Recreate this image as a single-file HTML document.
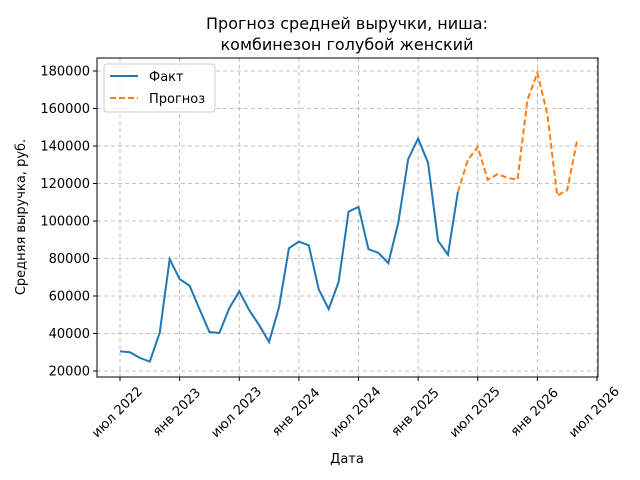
<!DOCTYPE html>
<html><head><meta charset="utf-8"><style>
body{margin:0;background:#fff;}
svg{display:block;font-family:"DejaVu Sans","Liberation Sans",sans-serif;}
</style></head><body>
<svg id="chart" width="640" height="480" viewBox="0 0 640 480" xmlns="http://www.w3.org/2000/svg">
<rect width="640" height="480" fill="#fff"/>
<text x="347" y="29" font-size="16" text-anchor="middle">Прогноз средней выручки, ниша:</text>
<text x="347" y="50" font-size="16" text-anchor="middle">комбинезон голубой женский</text>
<g id="grid"></g>
<g id="axes"></g>
<g id="series"></g>
<rect x="97" y="58" width="501" height="319" fill="none" stroke="#000" stroke-width="1"/>
<text transform="translate(25,217) rotate(-90)" font-size="13" text-anchor="middle">Средняя выручка, руб.</text>
<text x="347" y="463" font-size="13" text-anchor="middle">Дата</text>
<g>
<rect x="104" y="64" width="111" height="48" rx="3" fill="#fff" fill-opacity="0.85" stroke="#ccc"/>
<line x1="110" y1="76" x2="138" y2="76" stroke="#1f77b4" stroke-width="2"/>
<text x="149" y="81" font-size="13">Факт</text>
<line x1="110" y1="98" x2="138" y2="98" stroke="#ff7f0e" stroke-width="2" stroke-dasharray="6,3"/>
<text x="149" y="103" font-size="13">Прогноз</text>
</g>
</svg>
<script>
const yTicks=[20000,40000,60000,80000,100000,120000,140000,160000,180000];
const xTickLabels=["июл 2022","янв 2023","июл 2023","янв 2024","июл 2024","янв 2025","июл 2025","янв 2026","июл 2026"];
const xTickMonths=[0,6,12,18,24,30,36,42,48];
const factMonths=[0,1,2,3,4,5,6,7,8,9,10,11,12,13,14,15,16,17,18,19,20,21,22,23,24,25,26,27,28,29,30,31,32,33,34];
const factValues=[30500,30000,27000,25000,40500,79700,69000,65500,53000,40800,40300,53500,62500,52500,44500,35500,54000,85500,89000,87000,63500,53000,67500,105000,107500,85000,83000,77500,99000,133000,144000,131000,89500,82000,115500];
const forecastMonths=[34,35,36,37,38,39,40,41,42,43,44,45,46];
const forecastValues=[115500,132500,139500,122000,125000,123000,122000,164500,179000,157000,113500,116500,143000];
const NS="http://www.w3.org/2000/svg";
const xs=m=>120+m*(477/48);
const ys=v=>371-(v-20000)*300/160000;
const grid=document.getElementById('grid'),axes=document.getElementById('axes'),series=document.getElementById('series');
function mk(t,a,p){const e=document.createElementNS(NS,t);for(const k in a)e.setAttribute(k,a[k]);p.appendChild(e);return e;}
yTicks.forEach(v=>{const y=ys(v);
 const g=mk('line',{x1:97,x2:598,y1:y,y2:y,stroke:'#b0b0b0','stroke-width':0.8,'stroke-dasharray':'4,3'},grid);
 
 
 mk('line',{x1:93,x2:97,y1:y,y2:y,stroke:'#000'},axes);
 const t=mk('text',{x:90,y:y+4.5,'font-size':13,'text-anchor':'end'},axes);t.textContent=v;
 
 
});
xTickMonths.forEach((m,i)=>{const x=xs(m);
 const g=mk('line',{x1:x,x2:x,y1:58,y2:377,stroke:'#b0b0b0','stroke-width':0.8,'stroke-dasharray':'4,3'},grid);
 
 
 mk('line',{x1:x,x2:x,y1:377,y2:381,stroke:'#000'},axes);
 const t=mk('text',{transform:`translate(${x},${415}) rotate(-45)`,'font-size':13,'text-anchor':'middle'},axes);t.textContent=xTickLabels[i];
 
 
});
const f=mk('polyline',{points:factMonths.map((m,i)=>xs(m)+','+ys(factValues[i])).join(' '),fill:'none',stroke:'#1f77b4','stroke-width':2},series);


const p=mk('polyline',{points:forecastMonths.map((m,i)=>xs(m)+','+ys(forecastValues[i])).join(' '),fill:'none',stroke:'#ff7f0e','stroke-width':2,'stroke-dasharray':'6,3'},series);


</script>
</body></html>
